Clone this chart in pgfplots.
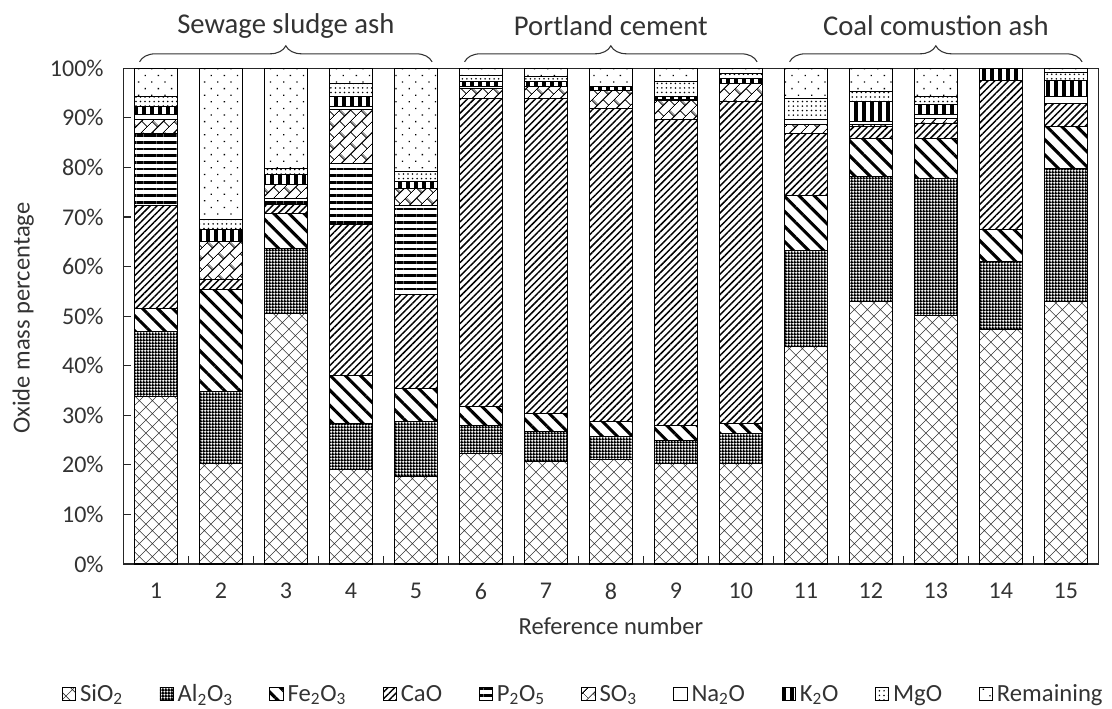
\documentclass[border=0pt]{standalone}
\usepackage{fontspec}
\setmainfont{Carlito}
\usepackage{pgfplots}
\pgfplotsset{compat=1.18}
\usepackage{pgfplotstable}
\usetikzlibrary{patterns,patterns.meta,decorations.pathreplacing}

\tikzdeclarepattern{name=siocross, type=uncolored,
  bounding box={(0,0) and (10pt,10pt)}, tile size={(10pt,10pt)},
  code={\draw[line width=0.5pt] (-1pt,-1pt)--(11pt,11pt) (-1pt,11pt)--(11pt,-1pt);}}
\tikzdeclarepattern{name=alugrid, type=uncolored,
  bounding box={(0,0) and (2.4pt,2.4pt)}, tile size={(2.4pt,2.4pt)},
  code={\fill (0,0) rectangle (2.4pt,1.4pt); \fill (0,0) rectangle (1.4pt,2.4pt);}}
\tikzdeclarepattern{name=diagbricks, type=uncolored,
  bounding box={(0,0) and (12pt,12pt)}, tile size={(12pt,12pt)},
  tile transformation={rotate=45},
  code={\draw[line width=0.6pt] (-1pt,0)--(13pt,0) (-1pt,6pt)--(13pt,6pt) (-1pt,12pt)--(13pt,12pt)
        (0,0)--(0,6pt) (12pt,0)--(12pt,6pt) (6pt,6pt)--(6pt,12pt);}}

% columns: x, SiO2, Al2O3, Fe2O3, CaO, P2O5, SO3, Na2O, K2O, MgO, Remaining
\pgfplotstableread{
x  si    al    fe    ca    p     s     na    k     mg    rem
1  33.8  13.1  4.7   20.8  14.5  2.7   1.0   1.7   2.0   5.7
2  20.3  14.5  20.5  2.0   0     7.7   0     2.4   2.0   30.6
3  50.6  13.1  7.0   1.8   1.3   2.7   0     2.0   1.3   20.2
4  19.0  9.4   9.7   30.3  12.4  10.8  0.7   2.0   2.7   3.0
5  17.6  11.1  6.7   18.9  18.1  3.4   0     1.3   2.0   20.9
6  22.3  5.7   3.7   62.2  0     2.1   0.3   1.0   1.3   1.4
7  20.6  6.1   3.7   63.5  0     2.4   0     1.0   1.0   1.7
8  21.0  4.7   3.0   63.2  0     3.7   0     0.7   0     3.7
9  20.3  4.7   3.0   61.6  0     4.0   0     0.7   3.0   2.7
10 20.3  6.1   2.0   64.9  0     3.7   0     1.0   1.0   1.0
11 43.8  19.5  11.1  12.5  0     1.7   1.0   0     4.3   6.1
12 52.9  25.2  7.8   2.3   0     0.4   0.6   4.1   2.0   4.7
13 50.2  27.6  8.1   3.0   0     1.0   0.7   2.0   1.7   5.7
14 47.3  13.7  6.4   30.2  0     0     0     2.4   0     0
15 52.9  26.9  8.4   4.7   0     0     1.4   3.3   1.6   0.8
}\datatable

\begin{document}
\begin{tikzpicture}
\useasboundingbox (-92.5pt,-108.75pt) rectangle (741.5pt,423pt);
\begin{axis}[
  at={(0,0)}, anchor=south west,
  scale only axis, width=731.25pt, height=371.8pt,
  ybar stacked, bar width=0.654,
  xmin=0.5, xmax=15.5, ymin=0, ymax=100,
  clip=false,
  axis line style={black!85, line width=0.8pt},
  tick pos=left, tick align=inside,
  xtick={1,...,15},
  minor xtick={1.5,2.5,...,14.5},
  major x tick style={draw=none},
  minor tick length=6pt, major tick length=6pt,
  tick style={black!85, line width=0.8pt},
  ytick={0,10,...,100},
  /pgf/number format/assume math mode=true,
  yticklabel={\pgfmathprintnumber{\tick}\%},
  ticklabel style={font=\fontsize{18}{21}\selectfont, text=black!80},
  yticklabel style={xshift=-11.25pt},
  xticklabel style={yshift=-11pt},
  every axis x label/.style={at={(axis description cs:0.5,-0.125)}, anchor=center},
  every axis y label/.style={at={(axis description cs:-0.1026,0.496)}, rotate=90, anchor=center},
  label style={font=\fontsize{18.4}{21}\selectfont, text=black!80},
  xlabel={Reference number},
  ylabel={Oxide mass percentage},
  every axis plot/.append style={draw=black, line width=0.8pt},
  legend image code/.code={\draw[#1, line width=0.6pt] (0pt,-5pt) rectangle (10pt,5pt);},
  legend columns=10,
  legend style={draw=none, fill=none, at={(axis description cs:0.4721,-0.2623)}, anchor=center,
    font=\fontsize{18.5}{21}\selectfont, text=black!80,
    /tikz/every even column/.append style={column sep=25.5pt},
    /tikz/every odd column/.append style={column sep=1pt}},
]
\addplot[pattern=siocross, pattern color=black!80] table[x=x,y=si]{\datatable};
\addlegendentry{SiO\textsubscript{2}}
\addplot[pattern=alugrid] table[x=x,y=al]{\datatable};
\addlegendentry{Al\textsubscript{2}O\textsubscript{3}}
\addplot[pattern={Lines[angle=-45,distance=8pt,line width=2.3pt]}] table[x=x,y=fe]{\datatable};
\addlegendentry{Fe\textsubscript{2}O\textsubscript{3}}
\addplot[pattern={Lines[angle=45,distance=3.6pt,line width=1.1pt]}] table[x=x,y=ca]{\datatable};
\addlegendentry{CaO}
\addplot[pattern={Lines[angle=0,distance=5pt,line width=2pt]}] table[x=x,y=p]{\datatable};
\addlegendentry{P\textsubscript{2}O\textsubscript{5}}
\addplot[pattern=diagbricks] table[x=x,y=s]{\datatable};
\addlegendentry{SO\textsubscript{3}}
\addplot[fill=white] table[x=x,y=na]{\datatable};
\addlegendentry{Na\textsubscript{2}O}
\addplot[pattern={Lines[angle=90,distance=6pt,line width=2.4pt]}] table[x=x,y=k]{\datatable};
\addlegendentry{K\textsubscript{2}O}
\addplot[pattern={Dots[distance=3.4pt,radius=0.65pt]}] table[x=x,y=mg]{\datatable};
\addlegendentry{MgO}
\addplot[pattern={Dots[distance=7pt,angle=45,radius=0.7pt]}] table[x=x,y=rem]{\datatable};
\addlegendentry{Remaining}

\draw[black!80, line width=0.8pt, decorate, decoration={brace, amplitude=12pt}]
  (axis cs:0.75,101.3) -- (axis cs:5.25,101.3);
\draw[black!80, line width=0.8pt, decorate, decoration={brace, amplitude=12pt}]
  (axis cs:5.75,101.3) -- (axis cs:10.25,101.3);
\draw[black!80, line width=0.8pt, decorate, decoration={brace, amplitude=12pt}]
  (axis cs:10.75,101.3) -- (axis cs:15.25,101.3);
\node[font=\fontsize{21.5}{24}\selectfont, text=black!80] at (axis cs:3,108.5) {Sewage sludge ash};
\node[font=\fontsize{21.5}{24}\selectfont, text=black!80] at (axis cs:8,108.5) {Portland cement};
\node[font=\fontsize{21.5}{24}\selectfont, text=black!80] at (axis cs:13,108.5) {Coal comustion ash};
\end{axis}
\end{tikzpicture}
\end{document}
